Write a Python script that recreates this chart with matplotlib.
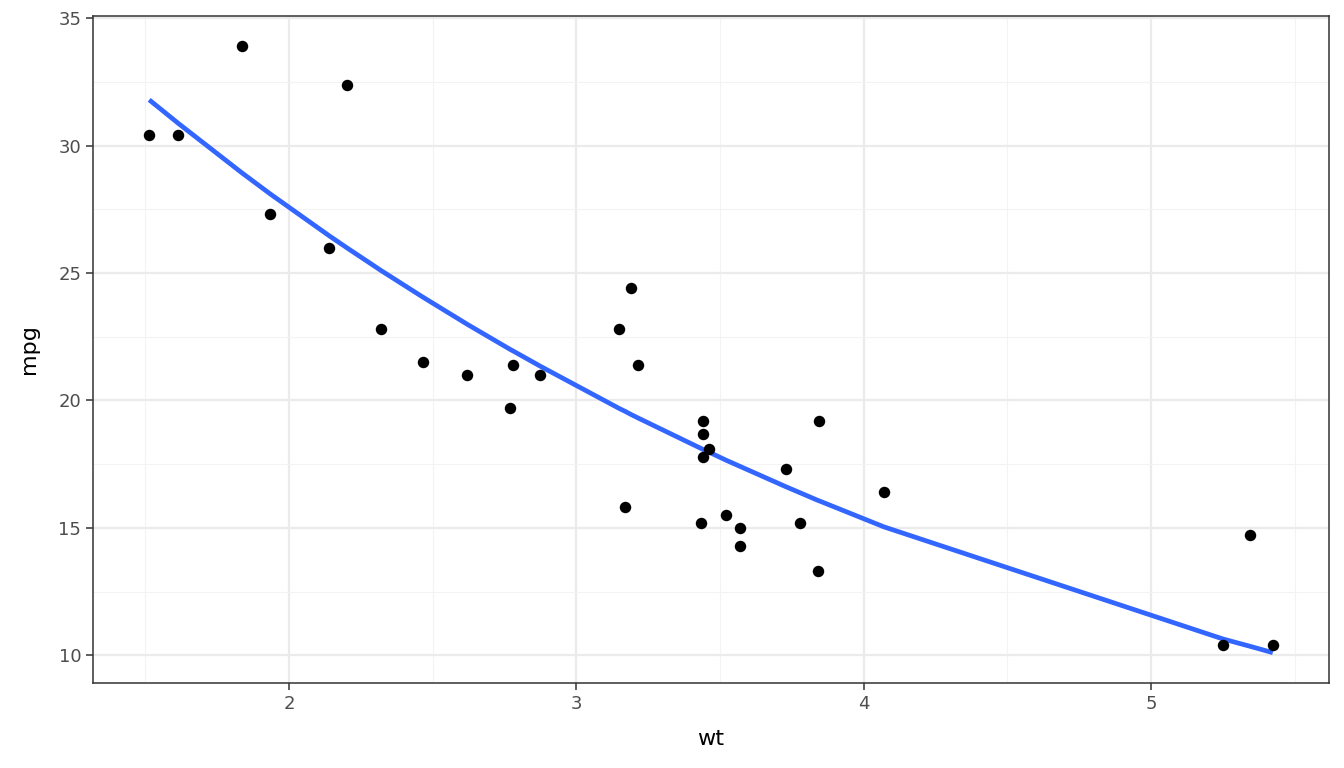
import matplotlib
matplotlib.use('Agg')
import matplotlib.pyplot as plt
from matplotlib.ticker import MultipleLocator

# mtcars: weight (1000 lbs) and miles per gallon
wt = [2.620, 2.875, 2.320, 3.215, 3.440, 3.460, 3.570, 3.190, 3.150, 3.440,
      3.440, 4.070, 3.730, 3.780, 5.250, 5.424, 5.345, 2.200, 1.615, 1.835,
      2.465, 3.520, 3.435, 3.840, 3.845, 1.935, 2.140, 1.513, 3.170, 2.770,
      3.570, 2.780]
mpg = [21.0, 21.0, 22.8, 21.4, 18.7, 18.1, 14.3, 24.4, 22.8, 19.2,
       17.8, 16.4, 17.3, 15.2, 10.4, 10.4, 14.7, 32.4, 30.4, 33.9,
       21.5, 15.5, 15.2, 13.3, 19.2, 27.3, 26.0, 30.4, 15.8, 19.7,
       15.0, 21.4]

# fitted curve at each distinct wt
fit_wt = [1.513, 1.615, 1.835, 1.935, 2.140, 2.200, 2.320, 2.465, 2.620, 2.770,
          2.780, 2.875, 3.150, 3.170, 3.190, 3.215, 3.435, 3.440, 3.460, 3.520,
          3.570, 3.730, 3.780, 3.840, 3.845, 4.070, 5.250, 5.345, 5.424]
fit_mpg = [31.80, 30.87, 28.94, 28.10, 26.46, 26.00, 25.10, 24.06, 22.99, 22.00,
           21.94, 21.34, 19.68, 19.57, 19.45, 19.31, 18.11, 18.08, 17.98, 17.66,
           17.41, 16.61, 16.37, 16.08, 16.06, 15.04, 10.64, 10.35, 10.10]

fig = plt.figure(figsize=(13.44, 7.68), dpi=100)
ax = fig.add_axes([93 / 1344, 85 / 768, (1329 - 93) / 1344, (683 - 16) / 768])

ax.set_axisbelow(True)
ax.grid(which='major', color='#EBEBEB', linewidth=1.6)
ax.grid(which='minor', color='#F3F3F3', linewidth=0.8)

ax.plot(fit_wt, fit_mpg, color='#3366FF', linewidth=3.4, zorder=3,
        solid_capstyle='butt')
ax.scatter(wt, mpg, s=68, color='black', zorder=4, linewidths=0)

ax.set_xlim(1.3174, 5.6196)
ax.set_ylim(8.91, 35.09)
ax.xaxis.set_major_locator(MultipleLocator(1))
ax.xaxis.set_minor_locator(MultipleLocator(0.5))
ax.yaxis.set_major_locator(MultipleLocator(5))
ax.yaxis.set_minor_locator(MultipleLocator(2.5))

for s in ax.spines.values():
    s.set_color('#333333')
    s.set_linewidth(1.1)

ax.tick_params(which='major', length=5, width=1.1, color='#333333',
               labelcolor='#4D4D4D', labelsize=13)
ax.tick_params(which='minor', length=0)
ax.set_xlabel('wt', fontsize=16, labelpad=12)
ax.set_ylabel('mpg', fontsize=16, labelpad=14)

fig.savefig('out.png', dpi=100, facecolor='white')
